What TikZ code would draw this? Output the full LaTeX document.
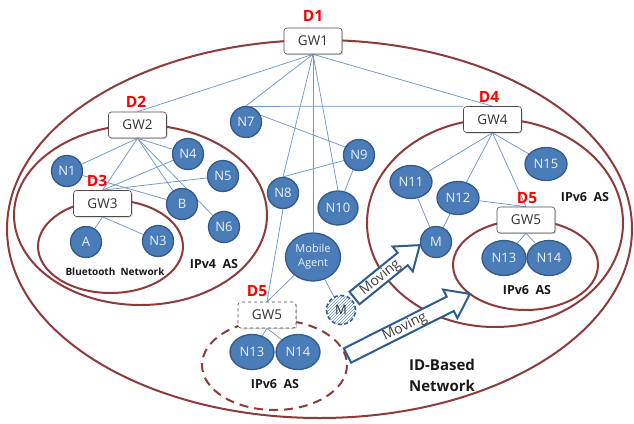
\documentclass[tikz,border=0pt]{standalone}
\usepackage{fontspec}
\setmainfont{Open Sans}
\usetikzlibrary{shapes.geometric,shadows,patterns}
\definecolor{nfill}{HTML}{4A7CB8}
\definecolor{nedge}{HTML}{34598A}
\definecolor{ered}{HTML}{8E3B3B}
\definecolor{linkc}{HTML}{6F97CC}
\definecolor{arrc}{HTML}{2E5C8F}
\pgfdeclarelayer{bg}
\pgfdeclarelayer{edges}
\pgfsetlayers{bg,edges,main}
\begin{document}
\begin{tikzpicture}[x=1pt,y=-1pt,
  nd/.style={circle,fill=nfill,draw=nedge,line width=1.3pt,minimum size=31pt,inner sep=0pt,
    text=white!90!nfill,font=\fontsize{13}{13}\selectfont},
  en/.style={ellipse,fill=nfill,draw=nedge,line width=1.3pt,minimum width=42pt,minimum height=33pt,
    inner sep=0pt,text=white!90!nfill,font=\fontsize{13}{13}\selectfont},
  gw/.style={rectangle,rounded corners=3pt,draw=black!70,fill=white,line width=0.6pt,
    minimum width=58pt,minimum height=26pt,inner sep=0pt,font=\fontsize{13.5}{13.5}\selectfont,
    text=black!80,drop shadow={shadow xshift=1.2pt,shadow yshift=-1.2pt,opacity=0.35}},
  dom/.style={draw=ered,line width=2pt},
  lk/.style={draw=linkc,line width=0.75pt},
  dl/.style={text=red,font=\bfseries\fontsize{15.5}{15.5}\selectfont},
  astxt/.style={font=\bfseries\fontsize{12.5}{12.5}\selectfont,text=black!90},
  movarrow/.style={draw=arrc,fill=white,line width=2pt,line join=miter},
  movtxt/.style={font=\fontsize{14}{14}\selectfont,text=black!75,inner sep=0pt},
]
\useasboundingbox (0,0) rectangle (634,423);

% ---------------- domains ----------------
\begin{pgfonlayer}{bg}
\fill[white] (0,0) rectangle (634,423);
\draw[dom] (319.5,229) ellipse [x radius=312.5, y radius=189];
\draw[dom] (140.5,215) ellipse [x radius=126.5, y radius=90];
\draw[dom] (110.5,246.5) ellipse [x radius=72.5, y radius=46.5];
\draw[dom] (495,223) ellipse [x radius=128, y radius=104];
\draw[dom] (525.5,265) ellipse [x radius=72.5, y radius=45];
\draw[dom,dashed,dash pattern=on 9pt off 6pt] (274.5,365) ellipse [x radius=72.5, y radius=45];
\end{pgfonlayer}

% ---------------- gateways ----------------
\node[gw] (GW1) at (313,41) {GW1};
\node[gw] (GW2) at (137.5,125) {GW2};
\node[gw] (GW3) at (102.5,203.5) {GW3};
\node[gw] (GW4) at (492.5,119.5) {GW4};
\node[gw] (GW5r) at (526,220) {GW5};
\node[gw,dashed,draw=black!75] (GW5l) at (267,315) {GW5};

% ---------------- domain labels ----------------
\node[dl] (D1) at (313,16) {D1};
\node[dl] (D2) at (136,102) {D2};
\node[dl] (D3) at (97,181) {D3};
\node[dl] (D4) at (489,97) {D4};
\node[dl] (D5r) at (527,198) {D5};
\node[dl] (D5l) at (257,291) {D5};

% ---------------- hosts ----------------
\node[nd] (N1) at (67,171) {N1};
\node[nd] (N4) at (188,154) {N4};
\node[nd] (N5) at (223,176) {N5};
\node[nd] (B) at (182,204) {B};
\node[nd] (N6) at (224,227) {N6};
\node[nd] (A) at (86,242) {A};
\node[nd] (N3) at (158,241) {N3};
\node[nd] (N7) at (246,122) {N7};
\node[nd] (N8) at (283,193) {N8};
\node[nd] (N9) at (359,155) {N9};
\node[en,minimum width=40pt,minimum height=34pt] (N10) at (338,208) {N10};
\node[en,minimum width=55pt,minimum height=48pt,align=center,font=\fontsize{11}{14}\selectfont] (MA) at (313,257) {Mobile\\Agent};
\node[circle,minimum size=29pt,inner sep=0pt,draw=arrc,line width=1.6pt,dash pattern=on 4pt off 2.5pt,
  preaction={fill=white},pattern=north east lines,pattern color=linkc,
  text=black!80,font=\fontsize{13}{13}\selectfont] (Md) at (341,310) {M};
\node[en] (N11) at (411,182) {N11};
\node[en] (N12) at (458,198) {N12};
\node[en] (N15) at (546,164) {N15};
\node[nd] (Mr) at (436,242) {M};
\node[en,minimum width=44pt,minimum height=35pt] (N13r) at (504,258) {N13};
\node[en,minimum width=44pt,minimum height=35pt] (N14r) at (549,258) {N14};
\node[en,minimum width=44pt,minimum height=35pt] (N13l) at (252,352) {N13};
\node[en,minimum width=44pt,minimum height=35pt] (N14l) at (298,352) {N14};

% ---------------- text labels ----------------
\node[astxt] (ip4) at (214,264) {IPv4\ \ AS};
\node[astxt] (ip6a) at (585,197) {IPv6\ \ AS};
\node[astxt] (ip6b) at (527,290) {IPv6\ \ AS};
\node[astxt] (ip6c) at (275,384) {IPv6\ \ AS};
\node[font=\bfseries\fontsize{10}{10}\selectfont,text=black!90] (bt) at (115,272) {Bluetooth\ \ Network};
\node[font=\bfseries\fontsize{15}{21}\selectfont,align=center,text=black!90] (idb) at (442,375) {ID-Based\\Network};

% ---------------- connectors ----------------
\begin{pgfonlayer}{edges}
\draw[lk] (GW1.south) -- (GW2.north);
\draw[lk] (GW1.south) -- (N7.north);
\draw[lk] (GW1.south) -- (N8.north);
\draw[lk] (GW1.south) -- (MA.north);
\draw[lk] (GW1.south) -- (N10.north);
\draw[lk] (GW1.south) -- (GW4.north);
\draw[lk] (N7.75) -- (GW4.north west);
\draw[lk] (N7.25) -- (N9.150);
\draw[lk] (N8.north) -- (N9.200);
\draw[lk] (N9) -- (N10);
\draw[lk] (N8.south) -- (GW5l.north);
\draw[lk] (MA) -- (GW5l.north);
\draw[lk] (MA) -- (Md);
\draw[lk] (GW5l.south) -- (N13l);
\draw[lk] (GW5l.south) -- (N14l);
\draw[lk] (GW2.south) -- (N1);
\draw[lk] (GW2.south) -- (GW3.north);
\draw[lk] (GW2.south) -- (N4);
\draw[lk] (GW2.south) -- (B);
\draw[lk] (GW2.south) -- (N6);
\draw[lk] (N1) -- (B);
\draw[lk] (N4) -- (GW3.north);
\draw[lk] (N5) -- (GW3.north);
\draw[lk] (GW3.south) -- (A);
\draw[lk] (GW3.south) -- (N3);
\draw[lk] (GW4.south) -- (N11);
\draw[lk] (GW4.south) -- (N12);
\draw[lk] (GW4.south) -- (GW5r.north);
\draw[lk] (GW4.south) -- (N15);
\draw[lk] (N12) -- (GW5r.north);
\draw[lk] (N11) -- (Mr);
\draw[lk] (N12) -- (Mr);
\draw[lk] (GW5r.south) -- (N13r);
\draw[lk] (GW5r.south) -- (N14r);
\end{pgfonlayer}

% ---------------- moving arrows ----------------
\begin{scope}[shift={(354.5,298)},rotate=39]
  \draw[movarrow] (0,-8) -- (62,-8) -- (62,-16) -- (84,0) -- (62,16) -- (62,8) -- (0,8) -- cycle;
  \node[movtxt,rotate=39] (mv1) at (33,0.5) {Moving};
\end{scope}
\begin{scope}[shift={(347.5,355.5)},rotate=26.7]
  \draw[movarrow] (0,-8) -- (115,-8) -- (115,-16) -- (137,0) -- (115,16) -- (115,8) -- (0,8) -- cycle;
  \node[movtxt,rotate=26.7] (mv2) at (64,0.5) {Moving};
\end{scope}
\end{tikzpicture}
\end{document}
